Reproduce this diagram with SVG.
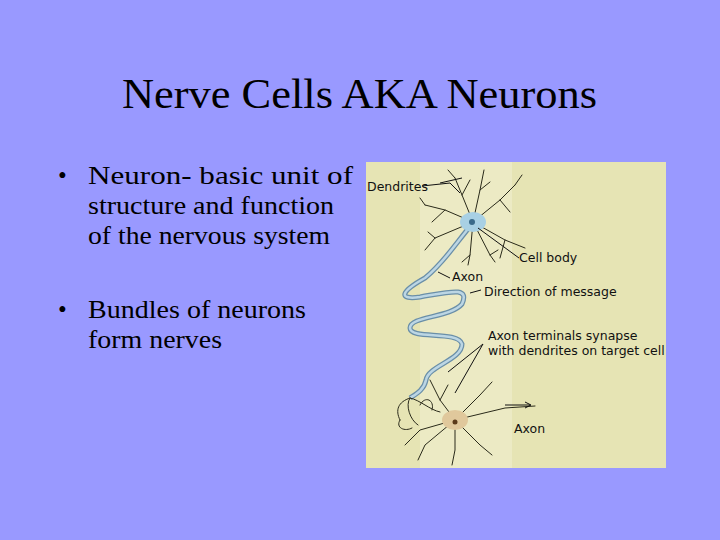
<svg xmlns="http://www.w3.org/2000/svg" width="720" height="540" viewBox="0 0 720 540">
<style>
.t{font-family:"Liberation Serif",serif;fill:#000}
.l{font-family:"DejaVu Sans",sans-serif;font-size:12.5px;fill:#111}
.d{fill:none;stroke:#2a2a1a;stroke-width:1;stroke-linecap:round}
.p{fill:none;stroke:#111;stroke-width:1}
</style>
<rect width="720" height="540" fill="#9999ff"/>
<text class="t" x="122" y="108" font-size="42" textLength="475" lengthAdjust="spacingAndGlyphs">Nerve Cells AKA Neurons</text>
<g class="t" font-size="25">
<text x="58" y="184">•</text><text x="88" y="184" textLength="265" lengthAdjust="spacingAndGlyphs">Neuron- basic unit of</text>
<text x="88" y="214" textLength="246" lengthAdjust="spacingAndGlyphs">structure and function</text><text x="88" y="244" textLength="242" lengthAdjust="spacingAndGlyphs">of the nervous system</text>
<text x="58" y="318">•</text><text x="88" y="318" textLength="218" lengthAdjust="spacingAndGlyphs">Bundles of neurons</text>
<text x="88" y="348" textLength="134" lengthAdjust="spacingAndGlyphs">form nerves</text>
</g>
<g id="picture">
<rect x="366" y="162" width="300" height="306" fill="#e6e4b4"/>
<rect x="420" y="162" width="92" height="306" fill="#eceac4"/>
<g id="dendrites1" class="d">
<path d="M473 222 L462 195 L455 178 M462 195 L470 180 M473 222 L445 210 L425 205 M445 210 L432 222 M473 222 L500 200 L515 185 M500 200 L510 212 M473 222 L505 240 L525 248 M505 240 L500 258 M473 222 L480 190 L484 170 M473 222 L470 255 L468 265 M473 222 L490 255 L495 262 M473 222 L435 238 L425 250 M435 238 L428 232 M455 178 L448 170 M515 185 L522 175 M480 190 L490 182 M425 205 L420 198 M470 255 L462 262 M490 255 L498 250"/>
</g>
<path id="axon" d="M473 223 C458 240 445 262 425 278 C400 292 398 300 420 297 C450 292 470 286 462 304 C450 318 410 316 410 328 C410 340 458 330 462 344 C462 360 428 366 426 380 C424 390 416 394 410 398" fill="none" stroke="#6a8fa8" stroke-width="5"/>
<path d="M473 223 C458 240 445 262 425 278 C400 292 398 300 420 297 C450 292 470 286 462 304 C450 318 410 316 410 328 C410 340 458 330 462 344 C462 360 428 366 426 380 C424 390 416 394 410 398" fill="none" stroke="#bcd6e4" stroke-width="2.5"/>
<ellipse cx="473" cy="222" rx="13" ry="10" fill="#a8d0e4"/>
<circle cx="472" cy="222" r="3" fill="#3a6a8a"/>
<g id="terminals" class="d">
<path d="M410 398 C398 402 395 410 400 420 M410 398 C420 400 430 410 440 412 M410 398 C405 405 410 420 418 425 M400 420 C395 428 405 432 412 428 M420 405 C425 395 435 400 432 410"/>
</g>
<g id="target" class="d">
<path d="M455 420 L440 400 L430 380 M455 420 L480 395 L492 382 M455 420 L505 408 L535 406 M455 420 L480 445 L492 455 M455 420 L455 450 L452 465 M455 420 L420 430 L405 445 M455 420 L425 445 L418 460 M440 400 L448 385"/>
</g>
<ellipse cx="455" cy="420" rx="13" ry="10" fill="#e0c89c"/>
<circle cx="455" cy="422" r="2.5" fill="#5a3a1a"/>
<g id="labels">
<text class="l" x="367" y="191">Dendrites</text>
<path class="p" d="M422 186 L450 183 L460 193 M440 183 L462 178"/>
<text class="l" x="519" y="262">Cell body</text>
<path class="p" d="M478 228 L519 258"/>
<text class="l" x="452" y="281">Axon</text>
<path class="p" d="M438 272 L450 278"/>
<text class="l" x="484" y="296">Direction of message</text>
<path class="p" d="M470 293 L481 290"/>
<text class="l" x="488" y="340">Axon terminals synapse</text>
<text class="l" x="488" y="355">with dendrites on target cell</text>
<path class="p" d="M483 344 L448 372 M483 344 L455 393"/>
<path class="p" d="M505 405 L530 405 M525 402 L531 405 L525 408"/>
<text class="l" x="514" y="433">Axon</text>
</g>
</g>
</svg>
